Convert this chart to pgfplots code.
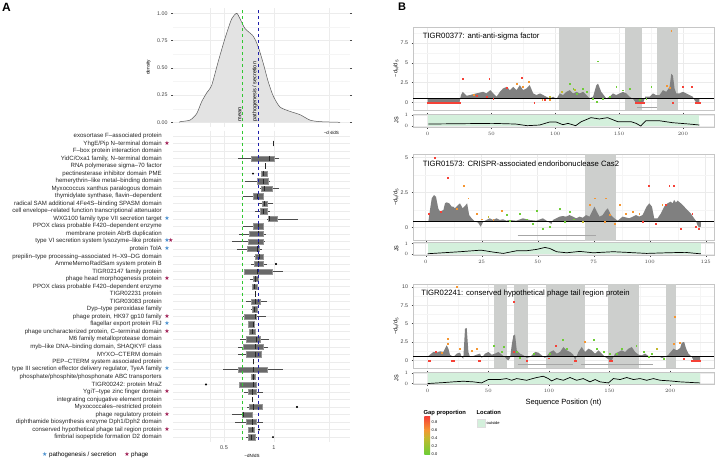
\documentclass[border=0pt]{standalone}
\usepackage{pgfplots}
\pgfplotsset{compat=1.18}
\usepgfplotslibrary{statistics}
\usepackage{fontspec}
\setmainfont{Liberation Sans}
\newfontfamily\symf{DejaVu Sans}
\definecolor{starblue}{RGB}{74,144,206}
\definecolor{starred}{RGB}{158,28,82}
\definecolor{gR}{RGB}{245,65,55}
\definecolor{gO}{RGB}{245,150,50}
\definecolor{gY}{RGB}{195,185,45}
\definecolor{gG}{RGB}{110,205,55}
\definecolor{mint}{RGB}{212,240,220}
\definecolor{band}{RGB}{205,207,205}
\definecolor{areag}{RGB}{128,128,128}
\definecolor{boxfill}{RGB}{105,105,105}
\definecolor{boxedge}{RGB}{150,150,150}
\definecolor{lgreen}{RGB}{50,200,50}
\definecolor{lblue}{RGB}{30,30,170}
\newcommand{\fs}[1]{\fontsize{#1}{#1}\selectfont}
\newcommand{\bs}{\textcolor{starblue}{\symf\fs{6}★}}
\newcommand{\rs}{\textcolor{starred}{\symf\fs{6}★}}
\newcommand{\lab}[2]{#1\hspace{2.5pt}\makebox[7pt][l]{#2}}
\newcommand{\bx}[6]{\addplot[boxplot prepared={draw position=#1, lower whisker=#2, lower quartile=#3, median=#4, upper quartile=#5, upper whisker=#6}] coordinates {};}
\pgfplotsset{
  bstyle/.style={scale only axis, width=301pt,
    axis line style={draw=gray!45, line width=0.6pt},
    tick align=outside, major tick length=1.5pt, minor tick length=0pt,
    tick style={draw=gray!50!black, line width=0.4pt},
    grid=both, major grid style={draw=gray!16, line width=0.5pt},
    minor grid style={draw=gray!8, line width=0.3pt},
    tick label style={font=\fs{5.3}, text=black!75},
    every axis y label/.style={at={(axis description cs:-0.037,0.5)}, rotate=90, anchor=south, font=\fs{5.5}},
  },
  gapR/.style={only marks, mark=square*, mark size=0.42pt, color=gR, mark options={draw=none}},
  gapO/.style={only marks, mark=square*, mark size=0.42pt, color=gO, mark options={draw=none}},
  gapY/.style={only marks, mark=square*, mark size=0.42pt, color=gY, mark options={draw=none}},
  gapG/.style={only marks, mark=square*, mark size=0.42pt, color=gG, mark options={draw=none}},
}
\begin{document}
\begin{tikzpicture}
\useasboundingbox (0,0) rectangle (715pt,-459pt);
\node[anchor=north west, font=\bfseries\fs{12}, inner sep=0pt] at (2pt,-3pt) {A};
\node[anchor=north west, font=\bfseries\fs{11}, inner sep=0pt] at (398pt,-3pt) {B};

% ---------------- density ----------------
\begin{axis}[at={(173pt,-7.85pt)}, anchor=north west, scale only axis,
  width=177pt, height=118.8pt, xmin=-0.01, xmax=1.76, ymin=-0.04, ymax=1.05,
  axis line style={draw=none},
  xtick={0.36,0.5,1,1.55}, xticklabels={}, xtick style={draw=none},
  ytick={0,0.25,0.5,0.75,1}, yticklabels={0.00,0.25,0.50,0.75,1.00},
  minor ytick={0.125,0.375,0.625,0.875}, minor tick length=0pt,
  ytick style={draw=gray!60!black, line width=0.4pt}, major tick length=2pt, tick align=outside,
  grid=both, major grid style={draw=gray!15, line width=0.5pt}, minor grid style={draw=gray!8, line width=0.3pt},
  tick label style={font=\fs{5.3}, text=black!75},
  ylabel={density}, ylabel style={font=\fs{4.8}, at={(axis description cs:-0.107,0.5)}, anchor=south},
  xlabel={\textasciitilde dN/dS}, xlabel style={font=\fs{4.5}, at={(axis description cs:0.895,0.0)}, anchor=north, yshift=-1pt},
  clip=false]
\addplot[fill=gray!22, draw=black!65, line width=0.5pt, smooth, tension=0.4] coordinates {
(0.06,0) (0.06,0.006) (0.16,0.02) (0.227,0.08) (0.277,0.19) (0.327,0.27) (0.377,0.34)
(0.443,0.56) (0.51,0.77) (0.577,0.95) (0.627,1.0) (0.66,0.95) (0.71,0.86) (0.793,0.79)
(0.843,0.69) (0.893,0.54) (0.943,0.37) (0.993,0.24) (1.06,0.14) (1.16,0.10) (1.26,0.07)
(1.36,0.02) (1.46,0.006) (1.66,0)};
\addplot[lgreen, dashed, line width=0.6pt] coordinates {(0.683,-0.04) (0.683,1.05)};
\addplot[lblue, dashed, line width=0.6pt] coordinates {(0.843,-0.04) (0.843,1.05)};
\node[rotate=90, anchor=south west, font=\fs{5.5}, inner sep=0.6pt] at (axis cs:0.683,0.0) {mean};
\node[rotate=90, anchor=south west, font=\fs{5.5}, inner sep=0.6pt] at (axis cs:0.843,0.0) {pathogenesis / secretion};
\end{axis}

% ---------------- boxplots ----------------
\begin{axis}[at={(173pt,-130.7pt)}, anchor=north west, scale only axis,
  width=177pt, height=311.7pt, xmin=-0.01, xmax=1.76, ymin=0.3, ymax=41.7, y dir=reverse,
  axis line style={draw=none}, tick style={draw=none},
  xtick={0.5,1}, xticklabels={0.5,1}, extra x ticks={0.36,1.55}, extra x tick labels={},
  ytick={1,...,41}, grid=major, major grid style={draw=gray!15, line width=0.5pt},
  xticklabel style={font=\fs{5.5}, text=black!75},
  yticklabel style={font=\fs{6.1}, text=black!85, inner sep=0pt, xshift=-1.5pt},
  xlabel={\textasciitilde dN/dS}, xlabel style={font=\fs{4.5}, at={(axis description cs:0.446,0)}, anchor=north, yshift=-8pt},
  boxplot/draw direction=x, boxplot/box extend=0.7, boxplot/whisker extend=0,
  boxplot/every box/.style={fill=boxfill, draw=boxedge, line width=0.5pt},
  boxplot/every whisker/.style={draw=black!70, line width=0.5pt},
  boxplot/every median/.style={draw=black!85, line width=0.9pt},
  yticklabels={
  {\lab{exosortase F–associated protein}{}},
  {\lab{YhgE/Pip N–terminal domain}{\rs}},
  {\lab{F–box protein interaction domain}{}},
  {\lab{YidC/Oxa1 family, N–terminal domain}{}},
  {\lab{RNA polymerase sigma–70 factor}{}},
  {\lab{pectinesterase inhibitor domain PME}{}},
  {\lab{hemerythrin–like metal–binding domain}{}},
  {\lab{Myxococcus xanthus paralogous domain}{}},
  {\lab{thymidylate synthase, flavin–dependent}{}},
  {\lab{radical SAM additional 4Fe4S–binding SPASM domain}{}},
  {\lab{cell envelope–related function transcriptional attenuator}{}},
  {\lab{WXG100 family type VII secretion target}{\bs}},
  {\lab{PPOX class probable F420–dependent enzyme}{}},
  {\lab{membrane protein AbrB duplication}{}},
  {\lab{type VI secretion system lysozyme–like protein}{\bs\hspace{-1.6pt}\rs}},
  {\lab{protein TolA}{\bs}},
  {\lab{prepilin–type processing–associated H–X9–DG domain}{}},
  {\lab{AmmeMemoRadiSam system protein B}{}},
  {\lab{TIGR02147 family protein}{}},
  {\lab{phage head morphogenesis protein}{\rs}},
  {\lab{PPOX class probable F420–dependent enzyme}{}},
  {\lab{TIGR02231 protein}{}},
  {\lab{TIGR03083 protein}{}},
  {\lab{Dyp–type peroxidase family}{}},
  {\lab{phage protein, HK97 gp10 family}{\rs}},
  {\lab{flagellar export protein FliJ}{\bs}},
  {\lab{phage uncharacterized protein, C–terminal domain}{\rs}},
  {\lab{M6 family metalloprotease domain}{}},
  {\lab{myb–like DNA–binding domain, SHAQKYF class}{}},
  {\lab{MYXO–CTERM domain}{}},
  {\lab{PEP–CTERM system associated protein}{}},
  {\lab{type III secretion effector delivery regulator, TyeA family}{\bs}},
  {\lab{phosphate/phosphite/phosphonate ABC transporters}{}},
  {\lab{TIGR00242: protein MraZ}{}},
  {\lab{YgiT–type zinc finger domain}{\rs}},
  {\lab{integrating conjugative element protein}{}},
  {\lab{Myxococcales–restricted protein}{}},
  {\lab{phage regulatory protein}{\rs}},
  {\lab{diphthamide biosynthesis enzyme Dph1/Dph2 domain}{}},
  {\lab{conserved hypothetical phage tail region protein}{\rs}},
  {\lab{fimbrial isopeptide formation D2 domain}{}}
  },
  clip=false]
\bx{2}{0.99}{0.99}{0.99}{0.99}{0.99}
\bx{4}{0.64}{0.77}{0.95}{1.00}{1.05}
\bx{5}{0.91}{0.91}{0.91}{0.91}{0.91}
\bx{6}{0.87}{0.87}{0.89}{0.93}{0.93}
\bx{7}{0.71}{0.83}{0.89}{0.94}{0.96}
\bx{8}{0.86}{0.87}{0.90}{0.98}{1.05}
\bx{9}{0.69}{0.79}{0.83}{0.89}{0.89}
\bx{10}{0.84}{0.88}{0.90}{0.93}{0.99}
\bx{11}{0.81}{0.86}{0.89}{0.93}{0.96}
\bx{12}{0.93}{0.94}{0.95}{1.03}{1.24}
\bx{13}{0.69}{0.79}{0.84}{0.89}{0.89}
\bx{14}{0.65}{0.75}{0.84}{0.89}{0.92}
\bx{15}{0.58}{0.74}{0.84}{0.89}{0.91}
\bx{16}{0.63}{0.73}{0.83}{0.85}{0.88}
\bx{17}{0.80}{0.81}{0.85}{0.89}{0.89}
\bx{18}{0.77}{0.80}{0.84}{0.89}{0.93}
\bx{19}{0.70}{0.70}{0.83}{0.98}{1.09}
\bx{20}{0.76}{0.79}{0.81}{0.84}{0.85}
\bx{21}{0.78}{0.78}{0.80}{0.83}{0.83}
\bx{22}{0.81}{0.81}{0.81}{0.81}{0.81}
\bx{23}{0.72}{0.77}{0.81}{0.86}{0.93}
\bx{24}{0.77}{0.78}{0.80}{0.83}{0.84}
\bx{25}{0.69}{0.70}{0.81}{0.82}{0.92}
\bx{26}{0.74}{0.74}{0.79}{0.80}{0.81}
\bx{27}{0.75}{0.75}{0.78}{0.81}{0.81}
\bx{28}{0.66}{0.72}{0.82}{0.86}{0.95}
\bx{29}{0.64}{0.69}{0.81}{0.89}{0.94}
\bx{30}{0.64}{0.72}{0.81}{0.87}{0.88}
\bx{31}{0.79}{0.79}{0.79}{0.79}{0.79}
\bx{32}{0.49}{0.64}{0.79}{0.93}{1.09}
\bx{33}{0.77}{0.77}{0.79}{0.81}{0.81}
\bx{34}{0.65}{0.65}{0.79}{0.82}{0.82}
\bx{35}{0.70}{0.74}{0.78}{0.82}{0.89}
\bx{36}{0.78}{0.78}{0.78}{0.78}{0.78}
\bx{37}{0.73}{0.75}{0.79}{0.88}{0.88}
\bx{38}{0.58}{0.68}{0.69}{0.78}{0.78}
\bx{39}{0.61}{0.72}{0.78}{0.82}{0.89}
\bx{40}{0.74}{0.74}{0.78}{0.80}{0.80}
\bx{41}{0.72}{0.74}{0.77}{0.81}{0.83}
\addplot[only marks, mark=*, mark size=0.8pt, black] coordinates {(0.79,6) (1.02,18) (0.32,34) (1.23,37) (0.85,40) (0.99,41)};
\addplot[lgreen, dashed, line width=0.6pt] coordinates {(0.683,0.3) (0.683,41.7)};
\addplot[lblue, dashed, line width=0.6pt] coordinates {(0.843,0.3) (0.843,41.7)};
\end{axis}
\node[anchor=west, font=\fs{6.2}, inner sep=0pt] at (42pt,-455pt) {\bs\hspace{1.5pt}pathogenesis / secretion\hspace{8pt}\rs\hspace{1.5pt}phage};

% ---------------- B panel 1 ----------------
\begin{axis}[bstyle, at={(413pt,-27pt)}, anchor=north west, height=83pt,
  xmin=-11.5, xmax=224.4, ymin=-0.97, ymax=9.53,
  xtick={0,50,100,150,200}, xticklabels={}, xtick style={draw=none}, minor xtick={25,75,125,175,225},
  ytick={0,2.5,5,7.5}, yticklabels={0,2.5,5,7.5}, minor ytick={1.25,3.75,6.25,8.75},
  ylabel={\textasciitilde d\textsubscript{N}/d\textsubscript{S}}]
\addplot[fill=band, draw=none] coordinates {(103,-0.97) (103,9.53) (127,9.53) (127,-0.97)};
\addplot[fill=band, draw=none] coordinates {(155,-0.97) (155,9.53) (168,9.53) (168,-0.97)};
\addplot[fill=band, draw=none] coordinates {(180,-0.97) (180,9.53) (196,9.53) (196,-0.97)};
\addplot[fill=areag, draw=none] coordinates {(0,0.5) (0,0) (25,0) (26,0.9) (27.5,1.33) (30.5,0.83) (33,0.92) (38,1.13) (43.5,1.33) (46,1.13) (49,1.54) (51.5,1.13) (54,0.71) (56.6,1.33) (59,1.75) (62,1.96) (64.4,1.54) (67,1.96) (69.6,1.54) (72.2,2.17) (74.8,1.54) (77.4,1.75) (80,2.17) (82.7,1.13) (85.3,0.92) (88,1.13) (90.5,0.92) (93,0.71) (95.7,0.5) (98.3,0.71) (101,0.42) (103.5,1.13) (106,0.92) (108.7,1.33) (111.3,1.54) (114,1.13) (116.6,1.33) (119.2,1.13) (121.8,1.33) (124.4,0.92) (127,0.5) (129.6,0.71) (132.2,2.17) (133.5,2.38) (136,1.33) (140,0.5) (142.6,0.71) (145.2,1.13) (147.8,0.92) (153,1.33) (155.7,1.13) (158.3,0.71) (161,0.42) (163,0) (169,0) (170.5,0.71) (173.9,0.71) (176.5,1.13) (179,0.92) (181.7,0.92) (184.4,1.54) (187,1.33) (189.6,1.96) (190.9,3.6) (192.2,3.4) (193.5,1.75) (194.8,1.13) (197.4,1.13) (200,1.33) (202.6,1.13) (205.2,0.92) (207.8,0.71) (209,0.3) (210.4,0) (213,0) (213,0.5)};
\addplot[draw=black!35, line width=0.9pt] coordinates {(164.3,-0.63) (180,-0.63)};
\addplot[gapR] coordinates {(0,0) (1,0) (2,0) (3,0) (4,0) (5,0) (6,0) (7,0) (8,0) (9,0) (10,0) (11,0) (12,0) (13,0) (14,0) (15,0) (16,0) (17,0) (18,0) (19,0) (20,0) (21,0) (22,0) (23,0) (24,0) (25,0) (163,0) (164,0) (165,0) (166,0) (167,0) (168,0) (169,0) (210,0) (211,0) (212,0) (213,0) (27.4,3.0) (48.2,3.0) (73.5,3.08) (61.8,1.8) (38.3,0.83) (46.2,0.71) (51.4,0.42) (83.5,0) (92,0.3) (200,2.0) (207,2.0) (192,0)};
\addplot[gapO] coordinates {(190.9,9.04) (79.3,2.6) (70,2.4) (74.6,1.96) (190,1.9) (187,2.1) (95.7,0.3) (89.8,0.3) (36,1.0)};
\addplot[gapY] coordinates {(95.7,0.7) (104.8,1.33) (115,1.6)};
\addplot[gapG] coordinates {(133.5,5.2) (111.3,2.4) (114,1.75) (121.8,1.75) (124.4,1.33) (129.6,0.5) (132.2,0.08) (147.8,1.96) (153.1,1.54) (158.3,1.75) (166.1,0.29) (171.3,0.5) (175.2,1.96) (142.6,0.71) (137.4,0.5) (116.6,1.13)};
\addplot[black, line width=0.8pt] coordinates {(-11.5,0.5) (224.4,0.5)};
\node[anchor=west, font=\fs{7.7}, inner sep=0pt] at (axis description cs:0.032,0.89) {TIGR00377: anti-anti-sigma factor};
\end{axis}
\begin{axis}[bstyle, at={(413pt,-114pt)}, anchor=north west, height=13pt,
  xmin=-11.5, xmax=224.4, ymin=-0.09, ymax=1.09,
  xtick={0,50,100,150,200}, minor xtick={25,75,125,175,225},
  ytick={0,1}, ylabel={JS}]
\addplot[fill=mint, draw=none] coordinates {(0.5,0) (0.5,1) (213,1) (213,0)};
\addplot[black, line width=0.7pt] coordinates {(0.6,0.18) (51,0.24) (69,0.18) (78,0.03) (87.7,0.09) (95.5,0.36) (100.7,0.36) (106,0.12) (110,0.24) (116,0.03) (120.3,0.39) (128,0.76) (134.6,0.64) (141,0.76) (149,0.39) (159.5,0.39) (163.4,0.24) (167,0) (171,0.48) (181.5,0.48) (192,0.3) (205,0.18) (213,0.09)};
\end{axis}

% ---------------- B panel 2 ----------------
\begin{axis}[bstyle, at={(413pt,-154pt)}, anchor=north west, height=86.7pt,
  xmin=-5.67, xmax=128.7, ymin=-0.93, ymax=5.26,
  xtick={0,25,50,75,100,125}, xticklabels={}, xtick style={draw=none}, minor xtick={12.5,37.5,62.5,87.5,112.5},
  ytick={0,2.5,5}, yticklabels={0,2.5,5}, minor ytick={1.25,3.75},
  ylabel={\textasciitilde d\textsubscript{N}/d\textsubscript{S}}]
\addplot[fill=band, draw=none] coordinates {(71,-0.93) (71,5.26) (85,5.26) (85,-0.93)};
\addplot[fill=areag, draw=none] coordinates {(1.2,0.45) (1.9,1.26) (2.7,2.1) (3.7,2.33) (4.6,2.21) (5.6,1.38) (6.4,1.14) (7.9,1.26) (8.6,1.74) (9.3,1.81) (10.5,1.74) (11.6,1.5) (12.3,1.5) (13,1.38) (14.5,1.62) (15.3,1.74) (16.5,1.38) (17.5,1.55) (18.5,1.74) (19.4,0.9) (20.5,0.67) (21.9,0.45) (23.4,0.36) (24.5,0.07) (25.7,0.43) (27.1,0.55) (28.6,0.67) (30.1,0.55) (31.6,0.67) (33.1,0.55) (34.5,0.6) (36,0.5) (37.5,0.55) (40.5,0.5) (43.4,0.67) (46.4,0.55) (49.4,0.5) (52.3,0.67) (55.3,0.36) (56.1,0.26) (56.8,0.55) (58.3,0.67) (59.8,0.79) (61.2,0.83) (62.7,0.79) (64.2,0.9) (65.7,0.79) (67.2,0.67) (68.7,0.79) (70.1,0.71) (71.6,0.9) (73.1,0.79) (74.6,1.26) (75.3,1.5) (76.4,1.14) (77.6,0.79) (79,0.9) (80.5,1.26) (81.3,1.38) (82.7,0.9) (84.2,0.67) (85.7,0.5) (87.9,0.79) (90.9,0.67) (93.9,0.9) (95.3,0.79) (96.8,0.9) (98.6,1.5) (99.8,1.74) (101,1.5) (102,0.67) (103.5,0.67) (105,1.02) (106.5,1.5) (108,1.74) (109.4,1.86) (110.2,1.74) (110.9,1.98) (111.7,1.79) (112.4,1.93) (113.9,1.74) (115.4,1.5) (116.8,1.26) (118.3,1.02) (119.8,0.67) (120.6,0.5) (121.3,0.19) (122,0.02) (122.8,0.07) (122.8,0.45)};
\addplot[draw=black!35, line width=0.9pt] coordinates {(41,-0.59) (76,-0.59)};
\addplot[gapR] coordinates {(3.9,5.02) (9.8,3.57) (1.2,1.02) (6.7,1.14) (99.5,2.98) (108.7,2.98) (110.6,2.98) (107,1.62) (119,0.98) (120.6,0.07) (122,-0.05) (113.7,-0.05) (102.8,0.26) (96.8,0.43)};
\addplot[gapO] coordinates {(16.8,3.0) (19,2.1) (13.8,1.38) (22.7,0.98) (24.9,0.6) (30.1,0.55) (33.8,1.2) (73.1,1.62) (75.3,2.1) (80.5,2.1) (79.8,0.43) (82,0.9) (84.5,0.3) (86.5,1.62) (89.4,0.98) (92.4,1.14) (95.3,0.98) (105.6,1.62)};
\addplot[gapY] coordinates {(27.9,0.79) (70.1,0.43)};
\addplot[gapG] coordinates {(37.5,0.5) (42,1.02) (49.4,1.2) (47.9,0.26) (52.3,-0.05) (55.3,0.07) (59.8,1.38) (64.2,1.14) (36.3,0.9) (45,0.6) (62,0.4) (66,0.6)};
\addplot[black, line width=0.8pt] coordinates {(-5.67,0.45) (128.7,0.45)};
\node[anchor=west, font=\fs{7.7}, inner sep=0pt] at (axis description cs:0.032,0.893) {TIGR01573: CRISPR-associated endoribonuclease Cas2};
\end{axis}
\begin{axis}[bstyle, at={(413pt,-242.5pt)}, anchor=north west, height=12.5pt,
  xmin=-5.67, xmax=128.7, ymin=-0.09, ymax=1.09,
  xtick={0,25,50,75,100,125}, minor xtick={12.5,37.5,62.5,87.5,112.5},
  ytick={0,1}, ylabel={JS}]
\addplot[fill=mint, draw=none] coordinates {(1,0) (1,1) (123,1) (123,0)};
\addplot[black, line width=0.7pt] coordinates {(0.9,0.03) (15.3,0.22) (24.7,0.37) (30,0.19) (34.6,0.06) (40.6,0.31) (45,0.31) (49.5,0.44) (53.2,0.62) (55.4,0.53) (58.4,0.22) (62.9,0.12) (68.8,0.25) (74.8,0.12) (83.7,0.22) (89.7,0.16) (98.6,0.06) (107.6,0.12) (115.8,0.16) (122.8,0.02)};
\end{axis}

% ---------------- B panel 3 ----------------
\begin{axis}[bstyle, at={(413pt,-284.3pt)}, anchor=north west, height=84pt,
  xmin=-12.1, xmax=236.2, ymin=-1.09, ymax=10.37,
  xtick={0,50,100,150,200}, xticklabels={}, xtick style={draw=none}, minor xtick={25,75,125,175,225},
  ytick={0,2.5,5,7.5,10}, yticklabels={0,2.5,5,7.5,10}, minor ytick={1.25,3.75,6.25,8.75},
  ylabel={\textasciitilde d\textsubscript{N}/d\textsubscript{S}}]
\addplot[fill=band, draw=none] coordinates {(54.4,-1.09) (54.4,10.37) (65.4,10.37) (65.4,-1.09)};
\addplot[fill=band, draw=none] coordinates {(71,-1.09) (71,10.37) (83,10.37) (83,-1.09)};
\addplot[fill=band, draw=none] coordinates {(98,-1.09) (98,10.37) (130,10.37) (130,-1.09)};
\addplot[fill=band, draw=none] coordinates {(149,-1.09) (149,10.37) (174,10.37) (174,-1.09)};
\addplot[fill=band, draw=none] coordinates {(197,-1.09) (197,10.37) (205,10.37) (205,-1.09)};
\addplot[fill=areag, draw=none] coordinates {(0,0.5) (1.9,0.77) (4.7,1.14) (7.4,1.05) (10.2,1.23) (12.9,1.14) (14.3,1.59) (15.7,2.05) (17.1,1.59) (18.4,0.77) (21.2,0.45) (23.9,0.91) (26.7,1.05) (28.1,0.45) (29.4,0.23) (30.8,4.32) (32.2,4.41) (33.6,1.14) (34.9,0.45) (37.7,0.59) (40.4,0.77) (43.2,0.91) (44.6,0.32) (47.3,0.91) (50.1,1.14) (52.8,0.77) (55.6,0.91) (58.3,1.14) (61.1,0.77) (63.8,0.45) (65.2,0.14) (66.6,0) (68,0.32) (69.3,2.05) (70.7,3.41) (72.1,3.5) (73.5,1.36) (76.2,0.91) (79,0.68) (81.7,0.32) (84.5,0.45) (88.6,1.14) (91.3,1.05) (94.1,0.68) (96.8,0.32) (101,1.14) (103.7,1.36) (106.5,0.91) (109.2,1.14) (112,1.82) (114.7,1.36) (117.5,1.14) (120.2,0.77) (121.6,0) (124.3,1.14) (127.1,1.82) (129.8,1.14) (132.6,1.59) (135.4,1.36) (138.1,0.91) (140.9,1.36) (143.6,0.91) (146.4,0.45) (149.1,0.14) (151.9,0) (154.6,0.91) (157.4,1.14) (160.1,1.36) (162.9,1.14) (165.6,1.59) (168.4,1.82) (171.1,1.14) (173.9,0.77) (176.6,0.68) (179.4,0.91) (182.1,0.59) (184.9,0.45) (187.6,0.45) (190.4,0.59) (193.1,0.32) (195.9,0.45) (198.6,0.77) (202.8,1.59) (205.5,1.36) (208.3,1.68) (209.6,2.41) (211.6,2.5) (213.2,1.59) (215.1,0.91) (217.9,0.45) (219.3,0) (224.8,0) (224.8,0.5)};
\addplot[draw=black!35, line width=0.9pt] coordinates {(74.3,-0.55) (120,-0.55)};
\addplot[draw=black!35, line width=0.9pt] coordinates {(126.2,-0.55) (186.1,-0.55)};
\addplot[gapR] coordinates {(2,0) (6.3,1.23) (21.2,0) (43.2,0) (70.7,7.95) (70.7,1.14) (81.7,0) (105.6,2.05) (122,0) (150.5,0) (211,0.23) (219.3,0) (222,0) (224.8,0) (100,0.3) (0.5,0) (20,0) (42,0) (121,0) (152,0) (218,0) (220.5,0) (223.5,0)};
\addplot[gapO] coordinates {(23.9,10) (203.6,5.95) (16.2,2.95) (16.5,2.27) (11.6,1.05) (26.7,1.59) (36.3,1.36) (40.4,1.59) (129.8,2.5) (202.8,2.27) (207.7,2.36)};
\addplot[gapY] coordinates {(189,1.59)};
\addplot[gapG] coordinates {(54.2,2.05) (61.1,1.14) (62.5,1.82) (73.5,1.14) (76.2,0.32) (87.7,0.91) (101,0.91) (111.4,2.86) (114.7,1.59) (136.8,2.86) (139.5,1.59) (145,1.14) (150.5,0.91) (156,0.91) (160,1.59) (172,2.05) (178,1.14) (182,0.45) (185,0.91) (194.5,0.23)};
\addplot[black, line width=0.8pt] coordinates {(-12.1,0.5) (236.2,0.5)};
\node[anchor=west, font=\fs{7.7}, inner sep=0pt] at (axis description cs:0.027,0.893) {TIGR02241: conserved hypothetical phage tail region protein};
\end{axis}
\begin{axis}[bstyle, at={(413pt,-372pt)}, anchor=north west, height=12.5pt,
  xmin=-12.1, xmax=236.2, ymin=-0.09, ymax=1.09,
  xtick={0,50,100,150,200}, minor xtick={25,75,125,175,225},
  ytick={0,1}, ylabel={JS},
  xlabel={Sequence Position (nt)}, xlabel style={font=\fs{7.5}, yshift=1pt}]
\addplot[fill=mint, draw=none] coordinates {(0.5,0) (0.5,1) (225,1) (225,0)};
\addplot[black, line width=0.7pt] coordinates {(0,0) (12.9,0.09) (21.1,0.16) (29.4,0.22) (37.6,0.16) (44.5,0.06) (50,0.38) (59.6,0.38) (65.1,0.47) (69.3,0.31) (73.4,0.47) (81.6,0.31) (89.9,0.57) (95.4,0.69) (99.5,0.47) (102.3,0.25) (106.4,0.47) (111.9,0.31) (117.4,0.57) (122.9,0.31) (128.4,0.47) (133.9,0.16) (138.1,0.38) (142.2,0.16) (149.1,0.06) (153.2,0.47) (158.7,0.38) (164.2,0.57) (169.7,0.38) (175.2,0.47) (180.7,0.31) (186.2,0.47) (191.7,0.31) (200,0.25) (208.2,0.16) (219.2,0.09) (224.7,0.06)};
\end{axis}

% ---------------- legends ----------------
\node[anchor=west, font=\bfseries\fs{5.8}, inner sep=0pt] at (423.5pt,-412.7pt) {Gap proportion};
\shade[bottom color=gG, top color=gY] (424.3pt,-454pt) rectangle (430pt,-437.85pt);
\shade[bottom color=gY, top color=gO] (424.3pt,-437.85pt) rectangle (430pt,-429.8pt);
\shade[bottom color=gO, top color=gR] (424.3pt,-429.8pt) rectangle (430pt,-416.6pt);
\foreach \v/\t in {0/0.0, 0.2/0.2, 0.4/0.4, 0.6/0.6, 0.8/0.8} {
  \node[anchor=west, font=\fs{4}, inner sep=0pt] at (431.5pt,{-454pt+\v*40.375pt}) {\t};
}
\node[anchor=west, font=\bfseries\fs{5.8}, inner sep=0pt] at (476.5pt,-412.7pt) {Location};
\fill[mint, draw=gray!25] (477.5pt,-419.3pt) rectangle (485pt,-426.7pt);
\node[anchor=west, font=\fs{4}, inner sep=0pt] at (486.5pt,-423pt) {outside};
\end{tikzpicture}
\end{document}
